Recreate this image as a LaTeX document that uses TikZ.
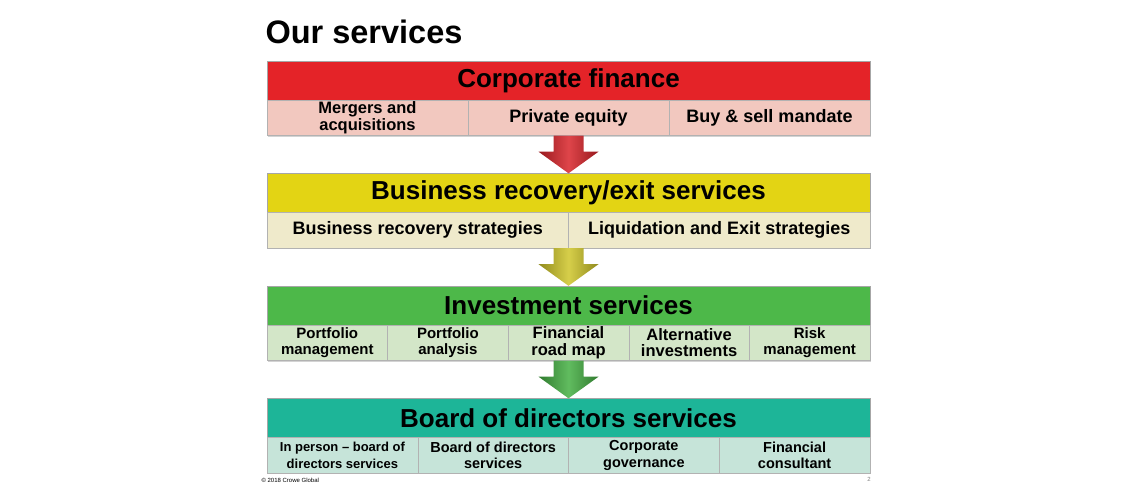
\documentclass[tikz,border=0pt]{standalone}
\usepackage{fontspec}
\setmainfont{Liberation Sans}
\usetikzlibrary{calc, shadows}

\definecolor{cfhead}{HTML}{E42328}
\definecolor{cfsub}{HTML}{F2C8BF}
\definecolor{cfarrow}{HTML}{D9242A}
\definecolor{brhead}{HTML}{E3D414}
\definecolor{brsub}{HTML}{EFEACB}
\definecolor{brarrow}{HTML}{CFC62A}
\definecolor{invhead}{HTML}{4DB849}
\definecolor{invsub}{HTML}{D3E6C8}
\definecolor{invarrow}{HTML}{45B043}
\definecolor{bodhead}{HTML}{1DB598}
\definecolor{bodsub}{HTML}{C6E4D9}

\begin{document}
\begin{tikzpicture}[x=1pt, y=-1pt,
    head/.style={draw=gray!70, fill=#1, minimum width=603pt, minimum height=39pt, inner sep=0pt,
        font=\bfseries\fontsize{26}{28}\selectfont},
    sub/.style={draw=gray!60, fill=#1, minimum height=35.5pt, inner sep=0pt, align=center,
        drop shadow={shadow xshift=0.8pt, shadow yshift=-1.2pt, opacity=.35}},
    blockarrow/.style={left color=#1!70!black, right color=#1!70!black, middle color=#1!85!white}]
    \useasboundingbox (0, 0) rectangle (1140, 500);

    \node [anchor=base west, font=\bfseries\fontsize{32.5}{36}\selectfont] (title) at (262, 44) {Our services};

    \node [head=cfhead] (cf) at (568.5, 80.5) {Corporate finance};
    \foreach \t/\s [count=\i] in {{Mergers and\\acquisitions}/16.5, Private equity/18, Buy \& sell mandate/18}
        \node [sub=cfsub, minimum width=201pt, font=\bfseries\fontsize{\s}{17.5}\selectfont] (cf\i) at (267 + 201*\i - 100.5, 117.75) {\t};

    \node [head=brhead] (br) at (568.5, 193) {Business recovery/exit services};
    \foreach \t/\s [count=\i] in {Business recovery strategies/18, Liquidation and Exit strategies/18}
        \node [sub=brsub, minimum width=301.5pt, font=\bfseries\fontsize{\s}{17}\selectfont] (br\i) at (267 + 301.5*\i - 150.75, 230.25) {\t};

    \node [head=invhead] (inv) at (568.5, 305.5) {Investment services};
    \foreach \t/\s [count=\i] in {{Portfolio\\management}/15, {Portfolio\\analysis}/15, {Financial\\road map}/16.5,
            {Alternative\\investments}/16.5, {Risk\\management}/15}
        \node [sub=invsub, minimum width=120.6pt, font=\bfseries\fontsize{\s}{16.5}\selectfont] (inv\i) at (267 + 120.6*\i - 60.3, 342.75) {\t};

    \node [head=bodhead] (bod) at (568.5, 418) {Board of directors services};
    \foreach \t/\s [count=\i] in {{In person -- board of\\directors services}/13, {Board of directors\\services}/14.5,
            {Corporate\\governance}/14.5, {Financial\\consultant}/14.5}
        \node [sub=bodsub, minimum width=150.75pt, font=\bfseries\fontsize{\s}{16.5}\selectfont] (bod\i) at (267 + 150.75*\i - 75.375, 455.25) {\t};

    % arrows between the bands
    \foreach \a/\b/\c in {cf/br/cfarrow, br/inv/brarrow, inv/bod/invarrow} {
        \coordinate (s) at (\a.center |- \a1.south);
        \shade [blockarrow=\c] ($(s) + (-15, 0)$) -- ($(s) + (15, 0)$) -- ($(s) + (15, 16)$) -- ($(s) + (30, 16)$) --
            (\b.north) -- ($(s) + (-30, 16)$) -- ($(s) + (-15, 16)$) -- cycle;
    }

    \node [anchor=west, font=\fontsize{6}{7}\selectfont] (copy) at (258, 480) {\textcopyright{} 2018 Crowe Global};
    \node [gray, font=\fontsize{6}{7}\selectfont] (page) at (869, 479) {2};
\end{tikzpicture}
\end{document}
